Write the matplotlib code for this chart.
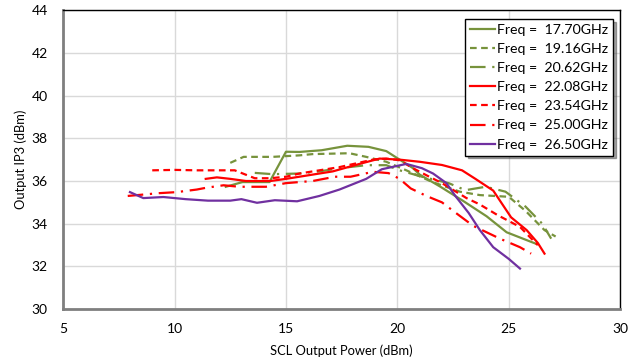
import matplotlib.pyplot as plt

plt.rcParams['font.family'] = ['Lato', 'DejaVu Sans']

# datos
x_1770 = [12.3, 13.05, 14.26, 15.0, 15.6, 16.6, 17.75, 18.7, 19.5, 20.1, 20.7, 21.0, 21.9, 22.9, 24.0, 24.9, 26.0, 26.25]
y_1770 = [35.73, 35.95, 35.95, 37.37, 37.36, 37.44, 37.65, 37.6, 37.4, 37.0, 36.6, 36.3, 35.75, 35.1, 34.35, 33.6, 33.15, 33.05]

x_1916 = [12.5, 13.1, 14.4, 15.6, 16.2, 17.85, 18.6, 19.5, 20.4, 21.55, 22.8, 23.7, 25.0, 25.75, 26.6, 27.1]
y_1916 = [36.85, 37.13, 37.13, 37.2, 37.26, 37.3, 37.13, 36.9, 36.5, 35.96, 35.5, 35.34, 35.26, 34.6, 33.7, 33.4]

x_2062 = [13.6, 14.4, 15.6, 16.5, 17.4, 18.6, 19.5, 20.1, 21.1, 22.3, 23.05, 23.96, 24.85, 25.75, 26.5, 26.9]
y_2062 = [36.38, 36.32, 36.35, 36.45, 36.6, 36.74, 36.74, 36.5, 36.2, 35.9, 35.57, 35.73, 35.5, 34.8, 34.0, 33.3]

x_2208 = [11.4, 11.9, 12.5, 13.2, 14.3, 15.0, 15.6, 16.5, 17.1, 18.3, 19.2, 20.1, 21.0, 22.0, 22.9, 23.5, 24.3, 25.1, 25.8, 26.3, 26.6]
y_2208 = [36.1, 36.17, 36.1, 36.0, 36.0, 36.1, 36.2, 36.35, 36.45, 36.8, 37.05, 37.0, 36.9, 36.75, 36.5, 36.1, 35.55, 34.3, 33.7, 33.1, 32.6]

x_2354 = [9.0, 10.0, 11.0, 12.0, 12.7, 13.6, 14.3, 15.0, 15.6, 16.5, 17.4, 18.9, 19.5, 20.1, 20.7, 21.3, 22.0, 23.1, 23.7, 24.5, 25.5, 26.2, 26.3]
y_2354 = [36.5, 36.52, 36.5, 36.5, 36.5, 36.13, 36.13, 36.2, 36.35, 36.5, 36.65, 37.0, 37.05, 36.97, 36.6, 36.27, 35.9, 35.2, 34.9, 34.4, 33.85, 33.1, 33.0]

x_2500 = [7.9, 9.3, 10.1, 11.0, 11.4, 12.2, 12.9, 14.1, 15.0, 16.2, 17.2, 17.9, 18.9, 19.6, 20.1, 20.6, 21.3, 22.0, 22.5, 23.4, 24.6, 25.5, 26.0]
y_2500 = [35.3, 35.43, 35.48, 35.6, 35.68, 35.8, 35.73, 35.73, 35.9, 36.0, 36.2, 36.2, 36.43, 36.37, 36.1, 35.65, 35.3, 35.0, 34.6, 33.9, 33.3, 32.9, 32.6]

x_2650 = [8.0, 8.6, 9.5, 10.5, 11.5, 12.5, 13.0, 13.7, 14.5, 15.5, 16.5, 17.4, 18.6, 19.3, 20.4, 21.1, 21.6, 22.2, 22.6, 23.2, 23.7, 24.3, 25.0, 25.5]
y_2650 = [35.48, 35.2, 35.25, 35.15, 35.08, 35.08, 35.15, 34.98, 35.1, 35.05, 35.3, 35.6, 36.1, 36.55, 36.8, 36.6, 36.35, 35.9, 35.3, 34.5, 33.7, 32.9, 32.35, 31.9]

verde = '#77933C'
rojo = '#FF0000'
violeta = '#7030A0'

fig = plt.figure(figsize=(6.31, 3.62), dpi=100)
ax = fig.add_axes([0.1, 0.146, 0.883, 0.826])

lw = 1.6
ax.plot(x_1770, y_1770, color=verde, lw=lw, label='Freq =  17.70GHz')
ax.plot(x_1916, y_1916, color=verde, lw=lw, dashes=(3, 2), label='Freq =  19.16GHz')
ax.plot(x_2062, y_2062, color=verde, lw=lw, dashes=(7, 3, 1, 3), label='Freq =  20.62GHz')
ax.plot(x_2208, y_2208, color=rojo, lw=lw, label='Freq =  22.08GHz')
ax.plot(x_2354, y_2354, color=rojo, lw=lw, dashes=(3, 2), label='Freq =  23.54GHz')
ax.plot(x_2500, y_2500, color=rojo, lw=lw, dashes=(7, 3, 1, 3), label='Freq =  25.00GHz')
ax.plot(x_2650, y_2650, color=violeta, lw=lw, label='Freq =  26.50GHz')

ax.set_xlim(5, 30)
ax.set_ylim(30, 44)
ax.set_xticks([5, 10, 15, 20, 25, 30])
ax.set_yticks([30, 32, 34, 36, 38, 40, 42, 44])
ax.grid(True, color='#d9d9d9', lw=1)
ax.set_axisbelow(True)
ax.tick_params(axis='x', length=0, labelsize=10, pad=10)
ax.tick_params(axis='y', length=0, labelsize=10, pad=11)

for s in ['top', 'right']:
    ax.spines[s].set_color('black')
    ax.spines[s].set_linewidth(1)
for s in ['left', 'bottom']:
    ax.spines[s].set_color('#7f7f7f')
    ax.spines[s].set_linewidth(2)

ax.set_xlabel('SCL Output Power (dBm)', fontsize=9.3, labelpad=7)
ax.set_ylabel('Output IP3 (dBm)', fontsize=9.3, labelpad=3)

leg = ax.legend(loc='upper right', bbox_to_anchor=(0.987, 0.97), fontsize=10.2,
                frameon=True, fancybox=False, shadow=True, edgecolor='black',
                framealpha=1, handlelength=1.75, handletextpad=0.15,
                labelspacing=0.5, borderpad=0.35, borderaxespad=0)
leg.get_frame().set_linewidth(1)

plt.savefig('out.png', dpi=100)
